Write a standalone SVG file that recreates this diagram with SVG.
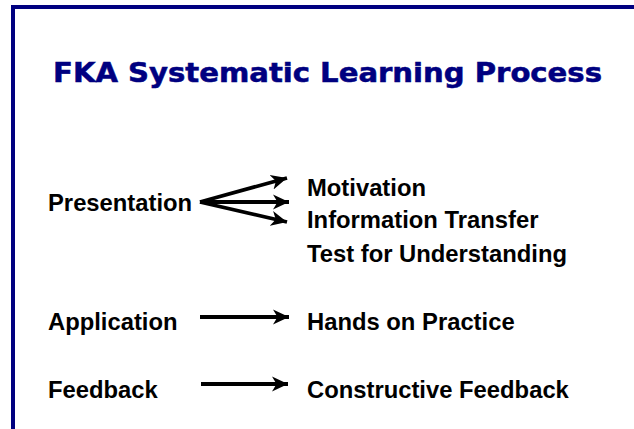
<svg xmlns="http://www.w3.org/2000/svg" width="634" height="429" viewBox="0 0 634 429">
  <style>
    .title { font-family: "DejaVu Sans Condensed", "DejaVu Sans", Verdana, sans-serif; font-weight: bold; font-size: 27px; fill: #000080; stroke: #000080; stroke-width: 0.5; }
    .lbl { font-family: "Liberation Sans", Arial, sans-serif; font-weight: bold; font-size: 23.8px; fill: #000000; }
    .arrow { stroke: #000000; stroke-width: 3.8; fill: none; marker-end: url(#head); }
  </style>
  <defs>
    <marker id="head" markerUnits="userSpaceOnUse" markerWidth="18" markerHeight="18" viewBox="0 0 18 18" refX="16" refY="9" orient="auto">
      <path d="M0,1.5 L16,9 L0,16.5 L4.5,9 Z" fill="#000000"/>
    </marker>
  </defs>
  <rect width="634" height="429" fill="#ffffff"/>

  <!-- slide frame: top and left rules -->
  <g id="frame" fill="#000080">
    <rect x="11" y="5" width="623" height="4"/>
    <rect x="11" y="5" width="4" height="424"/>
  </g>

  <g id="title">
    <text class="title" x="53" y="81.5" textLength="549" lengthAdjust="spacingAndGlyphs">FKA Systematic Learning Process</text>
  </g>

  <g id="presentation"><text class="lbl" x="48" y="211">Presentation</text></g>
  <g id="motivation"><text class="lbl" x="307" y="196">Motivation</text></g>
  <g id="information-transfer"><text class="lbl" x="307" y="228">Information Transfer</text></g>
  <g id="test-for-understanding"><text class="lbl" x="307" y="262">Test for Understanding</text></g>
  <g id="application"><text class="lbl" x="48" y="330">Application</text></g>
  <g id="hands-on-practice"><text class="lbl" x="307" y="330">Hands on Practice</text></g>
  <g id="feedback"><text class="lbl" x="48" y="398">Feedback</text></g>
  <g id="constructive-feedback"><text class="lbl" x="307" y="398">Constructive Feedback</text></g>

  <g id="connectors">
    <path class="arrow" d="M200,202 L287,178"/>
    <path class="arrow" d="M200,202 L289,202"/>
    <path class="arrow" d="M200,202 L287,222"/>
    <path class="arrow" d="M200,317 L289,317"/>
    <path class="arrow" d="M201,384 L288,384"/>
  </g>
</svg>
